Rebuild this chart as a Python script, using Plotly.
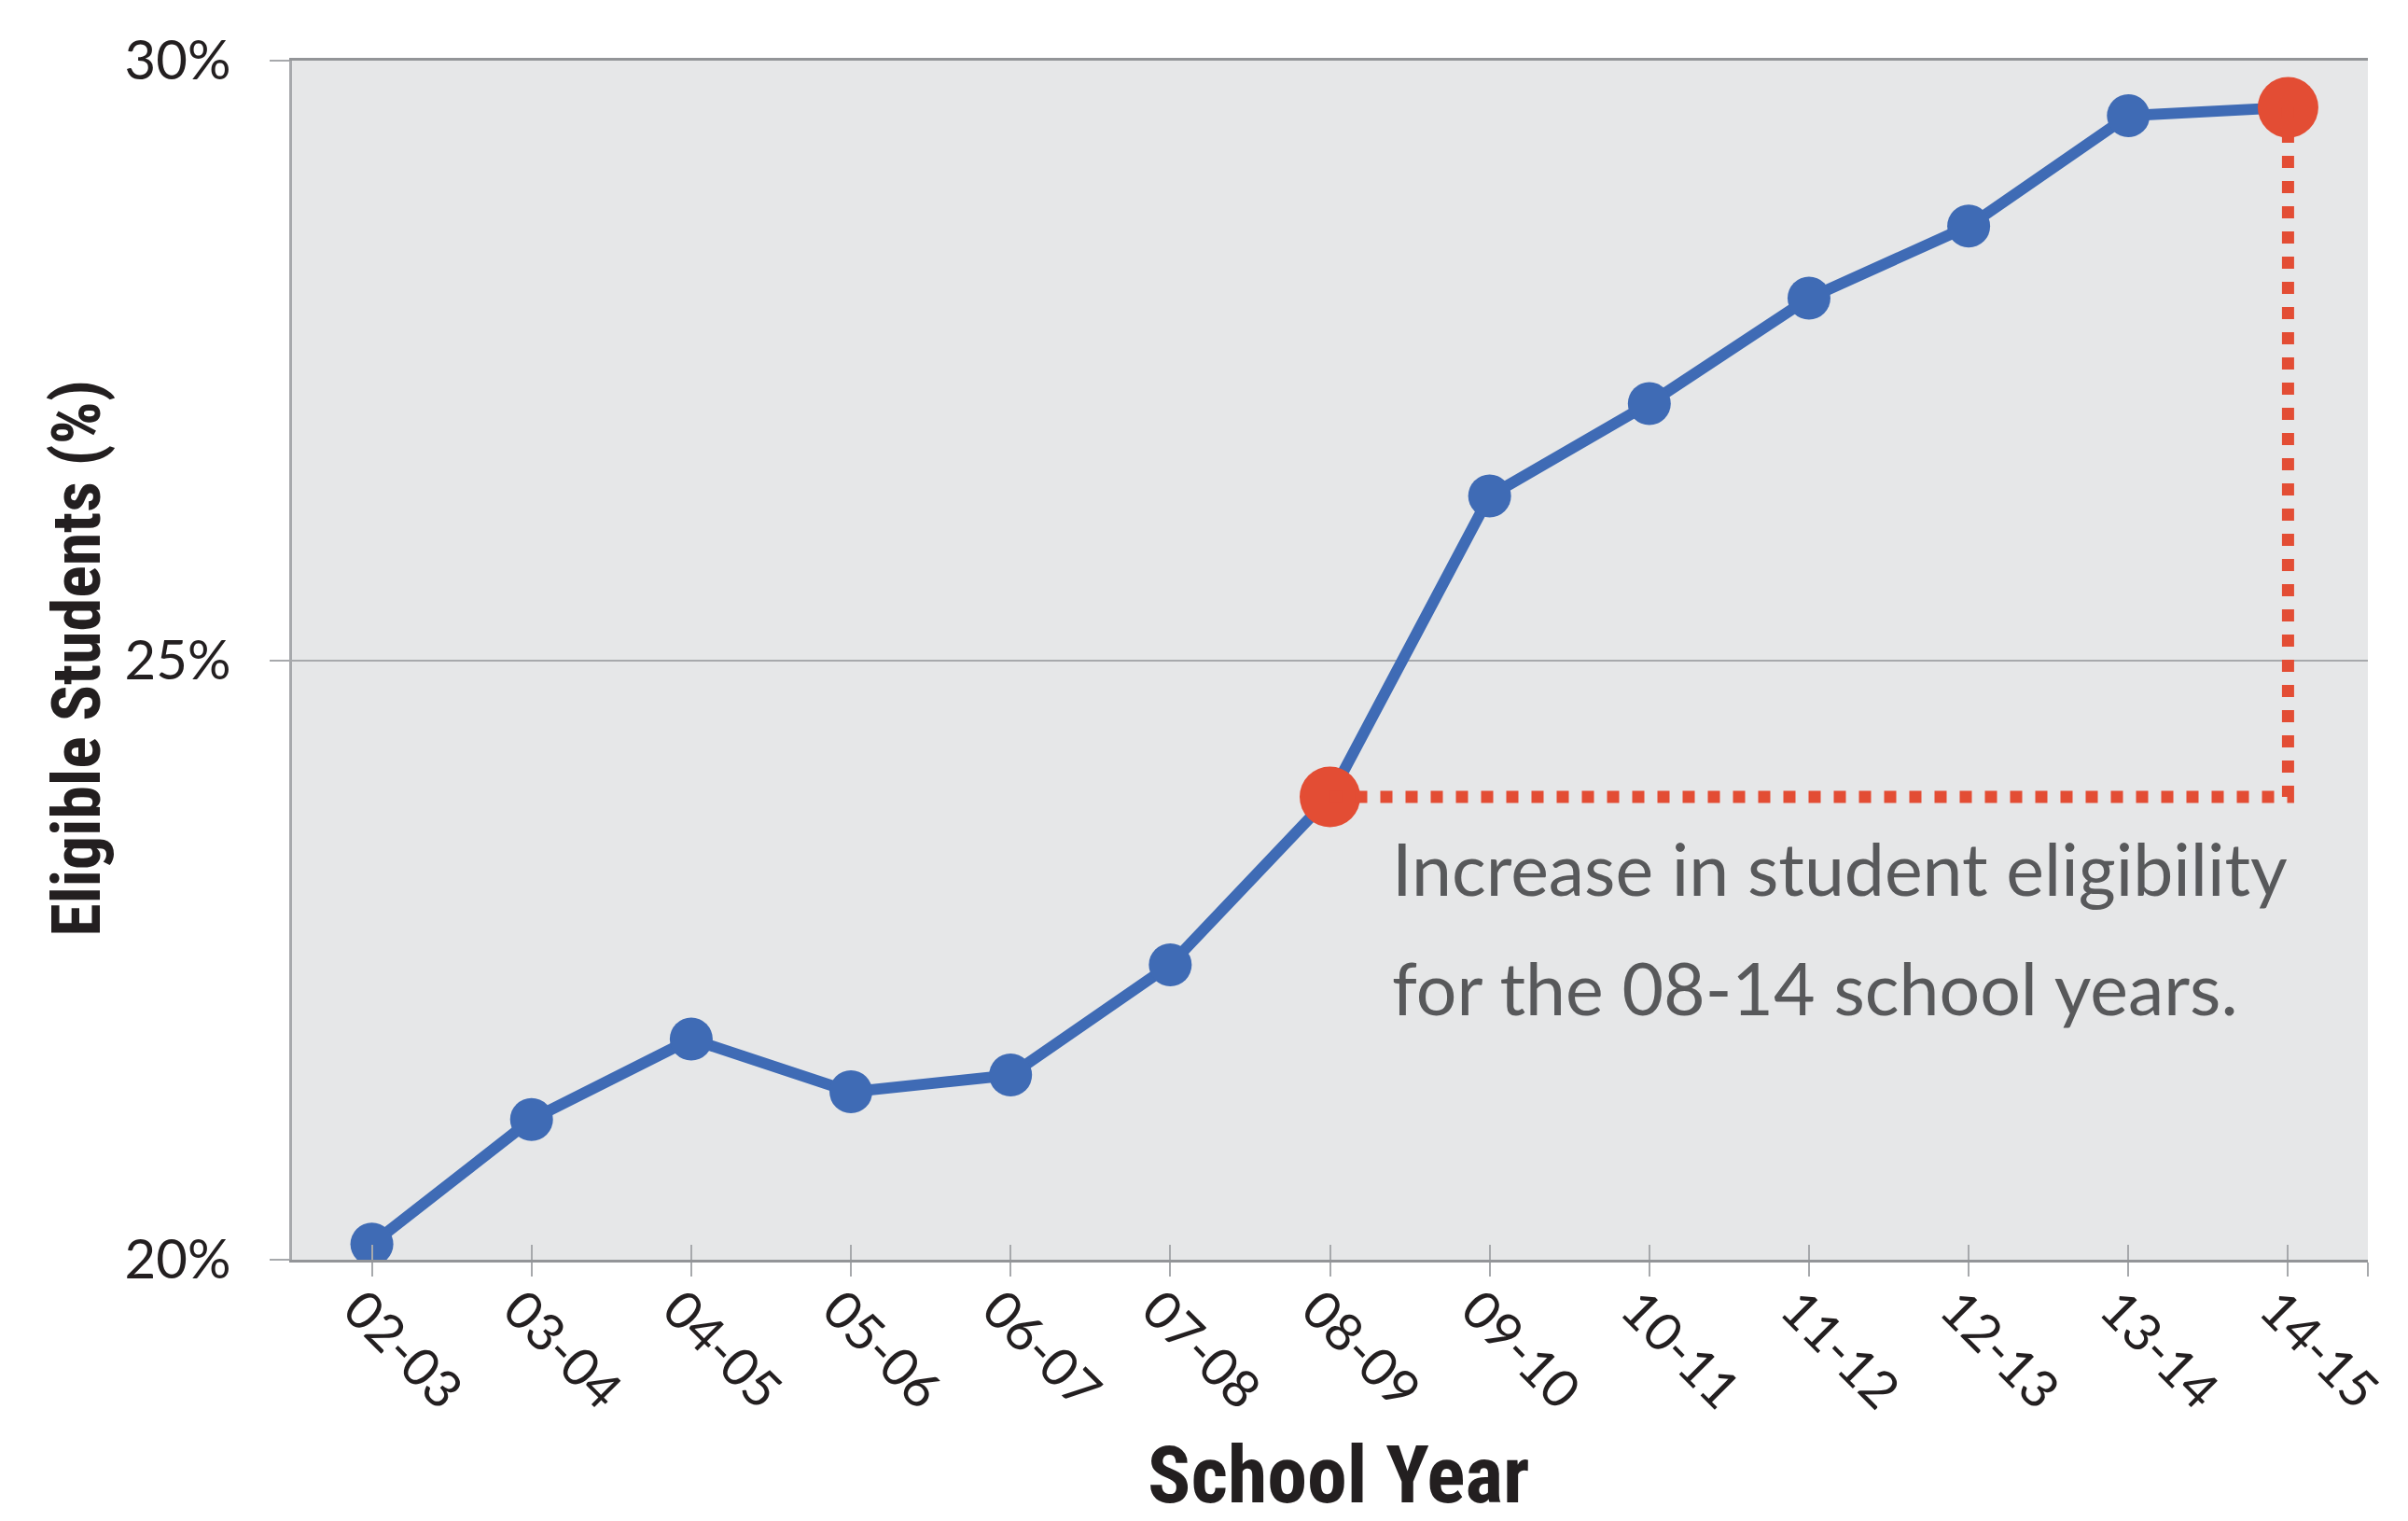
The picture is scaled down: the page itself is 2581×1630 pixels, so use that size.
import plotly.graph_objects as go

years = ["02-03", "03-04", "04-05", "05-06", "06-07", "07-08", "08-09",
         "09-10", "10-11", "11-12", "12-13", "13-14", "14-15"]
eligible_pct = [20.13, 21.17, 21.84, 21.40, 21.54, 22.46, 23.86,
                26.37, 27.14, 28.02, 28.62, 29.54, 29.61]
highlight_years = ["08-09", "14-15"]
y_ticks = [20, 25, 30]
y_tick_labels = ["20%", "25%", "30%"]
note_lines = ["Increase in student eligibility", "for the 08-14 school years."]

BLUE = "#3f6bb5"
RED = "#e34d34"
GRID = "#a7a9ac"
BG = "#e6e7e8"
TXT = "#231f20"
NOTE = "#58595b"
COND = "'Liberation Sans Narrow', 'Arial Narrow', 'Roboto Condensed', Roboto, sans-serif"
REG = "Lato, 'Open Sans', sans-serif"

idx = list(range(len(years)))
hi = [years.index(h) for h in highlight_years]
i0, i1 = hi

fig = go.Figure()
fig.add_trace(go.Scatter(
    x=idx, y=eligible_pct, mode="lines+markers",
    line=dict(color=BLUE, width=12),
    marker=dict(color=BLUE, size=46),
    showlegend=False, hoverinfo="skip"))
fig.add_trace(go.Scatter(
    x=[idx[i] for i in hi], y=[eligible_pct[i] for i in hi], mode="markers",
    marker=dict(color=RED, size=65),
    showlegend=False, hoverinfo="skip"))
# dotted guide (from highlight points)
fig.add_trace(go.Scatter(
    x=[idx[i0], idx[i1], idx[i1]],
    y=[eligible_pct[i0], eligible_pct[i0], eligible_pct[i1]],
    mode="lines", line=dict(color=RED, width=13, dash="13px,14px"),
    xaxis="x2", showlegend=False, hoverinfo="skip"))

tickvals_x = idx + [len(years) - 0.5]
ticktext_x = years + [""]

# page body has an 8px default margin, so the figure is 8px smaller
fig.update_layout(
    width=2573, height=1622,
    margin=dict(l=305, r=43, t=57, b=280, autoexpand=False),
    paper_bgcolor="white", plot_bgcolor=BG,
    xaxis=dict(range=[-0.5, len(years) - 0.5], tickmode="array",
               tickvals=tickvals_x, ticktext=ticktext_x, tickangle=45,
               ticks="outside", ticklen=15, tickwidth=2, tickcolor=GRID,
               ticklabelstandoff=-20, ticklabelshift=-14,
               showline=True, linecolor="#939598", linewidth=3, mirror=True,
               showgrid=False, zeroline=False,
               tickfont=dict(family=REG, size=56, color=TXT)),
    xaxis2=dict(overlaying="x", anchor="y", side="bottom",
                range=[-0.5, len(years) - 0.5], tickmode="array",
                tickvals=tickvals_x, ticks="inside", ticklen=16, tickwidth=2,
                tickcolor=GRID, showticklabels=False, showline=False,
                showgrid=False, zeroline=False),
    yaxis=dict(range=[20, 30], tickmode="array", tickvals=y_ticks,
               ticktext=y_tick_labels, ticks="outside", ticklen=21,
               tickwidth=2, tickcolor=GRID, ticklabelstandoff=30,
               showgrid=True, gridcolor=GRID, gridwidth=2,
               showline=True, linecolor=GRID, linewidth=3, zeroline=False,
               tickfont=dict(family=REG, size=58, color=TXT)),
    annotations=[
        dict(text="<b>Eligible Students (%)</b>", xref="paper", yref="paper",
             x=-0.1035, y=0.502, xanchor="center", yanchor="middle",
             textangle=-90, showarrow=False,
             font=dict(family=COND, size=72, color=TXT)),
        dict(text="<b>School Year</b>", xref="paper", yref="paper",
             x=0.504, y=-0.179, xanchor="center", yanchor="middle",
             showarrow=False, font=dict(family=COND, size=86, color=TXT)),
        dict(text=note_lines[0], xref="paper", yref="paper",
             x=0.529, y=0.327, xanchor="left", yanchor="middle",
             showarrow=False, font=dict(family=REG, size=77, color=NOTE)),
        dict(text=note_lines[1], xref="paper", yref="paper",
             x=0.529, y=0.227, xanchor="left", yanchor="middle",
             showarrow=False, font=dict(family=REG, size=77, color=NOTE)),
    ],
)

fig.write_html("out.html")
